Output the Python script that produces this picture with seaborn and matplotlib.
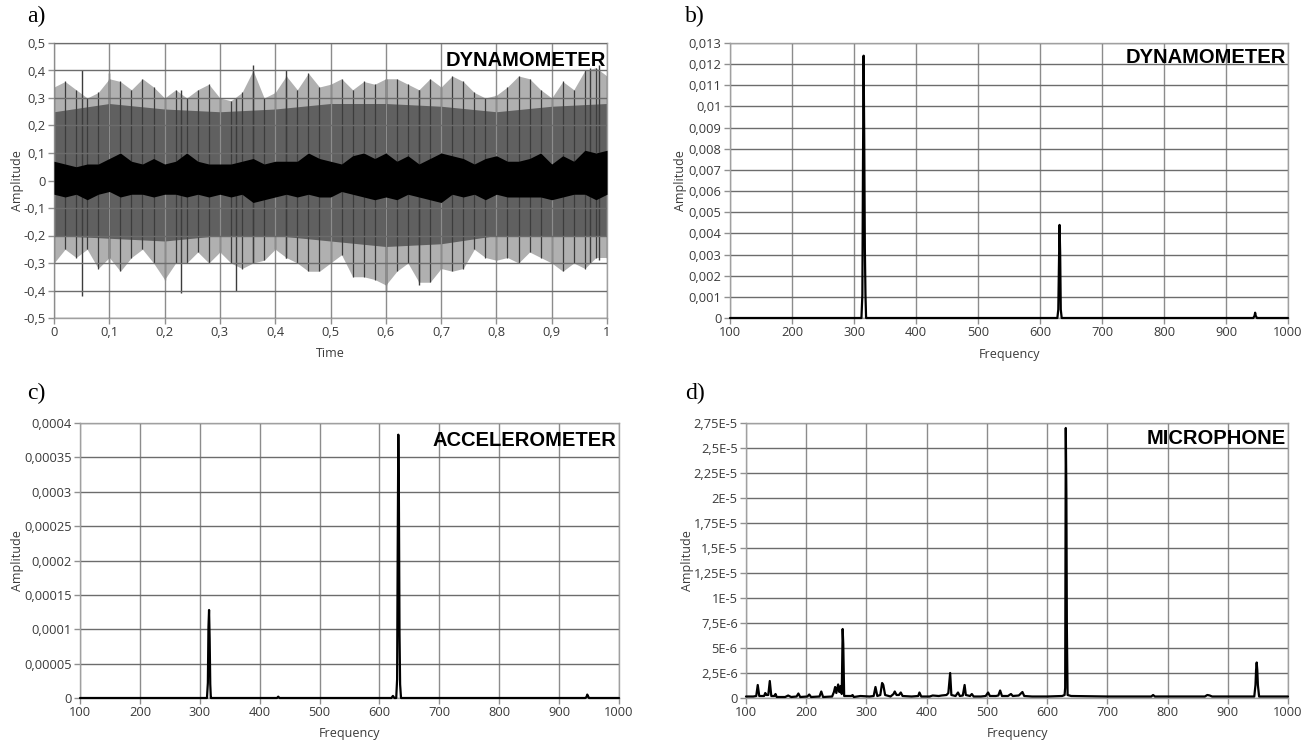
import numpy as np
import matplotlib
matplotlib.use("Agg")
import matplotlib.pyplot as plt
import seaborn as sns
import pandas as pd

# ---------------- data ----------------
# a) time signal envelopes (read from picture)
t_env = np.round(np.arange(0, 1.0001, 0.02), 2)
outer_up = [0.34, 0.36, 0.33, 0.30, 0.32, 0.37, 0.36, 0.33, 0.37, 0.34,
            0.30, 0.33, 0.30, 0.33, 0.35, 0.30, 0.29, 0.32, 0.40, 0.30,
            0.32, 0.38, 0.33, 0.39, 0.34, 0.35, 0.37, 0.33, 0.36, 0.35,
            0.37, 0.37, 0.35, 0.33, 0.37, 0.34, 0.38, 0.36, 0.32, 0.30,
            0.31, 0.34, 0.38, 0.37, 0.33, 0.30, 0.36, 0.33, 0.40, 0.41, 0.38]
outer_lo = [-0.30, -0.25, -0.28, -0.25, -0.32, -0.28, -0.33, -0.28, -0.25, -0.30,
            -0.36, -0.30, -0.30, -0.26, -0.30, -0.26, -0.30, -0.32, -0.30, -0.29,
            -0.25, -0.28, -0.30, -0.33, -0.33, -0.30, -0.27, -0.35, -0.35, -0.36,
            -0.38, -0.33, -0.30, -0.37, -0.37, -0.32, -0.33, -0.32, -0.25, -0.28,
            -0.29, -0.28, -0.30, -0.26, -0.28, -0.30, -0.33, -0.30, -0.32, -0.28, -0.28]
inner_up = [0.07, 0.06, 0.05, 0.06, 0.06, 0.08, 0.10, 0.07, 0.06, 0.08,
            0.06, 0.07, 0.10, 0.07, 0.06, 0.06, 0.06, 0.07, 0.08, 0.06,
            0.07, 0.07, 0.07, 0.10, 0.08, 0.07, 0.06, 0.09, 0.10, 0.08,
            0.10, 0.07, 0.09, 0.06, 0.08, 0.10, 0.09, 0.08, 0.06, 0.08,
            0.09, 0.07, 0.07, 0.08, 0.10, 0.06, 0.09, 0.07, 0.11, 0.10, 0.11]
inner_lo = [-0.05, -0.06, -0.05, -0.07, -0.05, -0.04, -0.06, -0.05, -0.05, -0.06,
            -0.05, -0.05, -0.06, -0.05, -0.06, -0.05, -0.06, -0.05, -0.08, -0.07,
            -0.06, -0.05, -0.06, -0.05, -0.06, -0.06, -0.04, -0.05, -0.06, -0.07,
            -0.06, -0.07, -0.05, -0.06, -0.07, -0.08, -0.05, -0.06, -0.05, -0.07,
            -0.05, -0.06, -0.06, -0.06, -0.06, -0.07, -0.06, -0.05, -0.05, -0.07, -0.05]
t_mid = [0.0, 0.1, 0.2, 0.3, 0.4, 0.5, 0.6, 0.7, 0.8, 0.9, 1.0]
mid_up = [0.25, 0.28, 0.26, 0.25, 0.26, 0.28, 0.28, 0.27, 0.25, 0.27, 0.28]
mid_lo = [-0.20, -0.21, -0.22, -0.20, -0.20, -0.22, -0.24, -0.23, -0.20, -0.20, -0.20]
spike_t = [0.05, 0.10, 0.23, 0.33, 0.36, 0.42, 0.60, 0.66, 0.97, 0.985]
spike_top = [0.40, 0.39, 0.33, 0.30, 0.42, 0.40, 0.37, 0.33, 0.41, 0.42]
spike_bot = [-0.42, -0.30, -0.41, -0.40, -0.30, -0.28, -0.40, -0.38, -0.30, -0.29]

# b) dynamometer spectrum
b_freq = [100, 312, 313.5, 314.5, 315.5, 316.5, 317.5, 318.5, 319.5, 321,
          628, 629.5, 630.5, 631.5, 632.5, 633.5, 635,
          944, 946, 947, 948, 950, 1000]
b_amp = [0, 0, 0.0011, 0.0073, 0.0124, 0.0084, 0.0033, 0.0011, 0, 0,
         0, 0.0004, 0.0024, 0.0044, 0.0031, 0.0004, 0,
         0, 0.0001, 0.00025, 0.0001, 0, 0]

# c) accelerometer spectrum
c_freq = [100, 312, 313.5, 314.5, 315.5, 316.5, 317.5, 318.5, 320,
          429, 431, 433, 620, 622.5, 625,
          628, 629.5, 630.5, 631.5, 632.5, 633.5, 634.5, 636,
          944, 946, 947, 948, 950, 1000]
c_amp = [0, 0, 0.000022, 0.000103, 0.000128, 0.000086, 0.00002, 0, 0,
         0, 0.000002, 0, 0, 0.000003, 0,
         0, 0.000027, 0.000217, 0.000383, 0.000287, 0.0000945, 0.00002, 0,
         0, 0.000002, 0.000005, 0.000003, 0, 0]

# d) microphone spectrum
d_freq = [100, 112, 117, 119.5, 122, 130, 132, 134, 137, 139.5, 142, 147, 149, 151,
          165, 170, 175, 184, 187, 190, 202, 205, 208, 222, 225, 228,
          243, 246, 248, 250, 253, 255, 257, 259, 260.5, 261.5, 263,
          275, 277, 279, 290, 305, 312, 315, 318, 323, 326, 328, 331,
          340, 345, 347, 350, 354, 357, 360, 375, 386, 388, 391, 405, 410, 420, 425,
          433, 436, 439, 441, 448, 452, 455, 460, 463, 465, 472, 475, 478,
          490, 498, 502, 505, 515, 519, 522, 525, 535, 540, 543, 553, 559, 562,
          575, 600, 625, 629, 630, 631, 632, 632.8, 634, 640, 700,
          773, 776, 779, 862, 866, 870, 874,
          944, 946, 947, 948, 949, 950, 952, 1000]
d_amp = [1.5e-7, 1.5e-7, 2e-7, 1.3e-6, 2e-7, 2e-7, 5e-7, 3e-7, 3e-7, 1.7e-6, 2e-7, 2e-7, 4e-7, 1e-7,
         1e-7, 2.5e-7, 1e-7, 1.5e-7, 4.5e-7, 1e-7, 1.5e-7, 3.5e-7, 1e-7, 1.5e-7, 6.5e-7, 1e-7,
         1.5e-7, 6e-7, 1.1e-6, 5e-7, 1.35e-6, 6e-7, 1.2e-6, 4e-7, 6.9e-6, 5.4e-6, 2e-7,
         2e-7, 3e-7, 1e-7, 2e-7, 1.5e-7, 2e-7, 1.1e-6, 2e-7, 3e-7, 1.5e-6, 1.3e-6, 3e-7,
         1.5e-7, 4e-7, 6.5e-7, 3e-7, 3e-7, 5.5e-7, 2e-7, 1.5e-7, 2e-7, 5.5e-7, 1.5e-7, 1.5e-7, 2.5e-7, 2e-7, 2.5e-7,
         3e-7, 5e-7, 2.5e-6, 3e-7, 2e-7, 5.5e-7, 2e-7, 2.5e-7, 1.3e-6, 3e-7, 2e-7, 4e-7, 1.5e-7,
         1.5e-7, 2e-7, 5.5e-7, 2e-7, 2e-7, 2.5e-7, 7.5e-7, 2e-7, 2e-7, 4e-7, 2e-7, 2.5e-7, 6e-7, 2e-7,
         1.5e-7, 1.5e-7, 2e-7, 3e-7, 1e-6, 2.7e-5, 2.03e-5, 7e-6, 3e-7, 2e-7, 1.5e-7,
         1.5e-7, 3e-7, 1.5e-7, 1.5e-7, 3e-7, 2.5e-7, 1.5e-7,
         1.5e-7, 1.3e-6, 2.8e-6, 3.55e-6, 2.8e-6, 1.3e-6, 1.5e-7, 1.5e-7]
assert len(d_freq) == len(d_amp)
assert len(c_freq) == len(c_amp)
assert len(b_freq) == len(b_amp)

# tick labels
a_yticks = [-0.5, -0.4, -0.3, -0.2, -0.1, 0, 0.1, 0.2, 0.3, 0.4, 0.5]
a_yticklabels = ["-0,5", "-0,4", "-0,3", "-0,2", "-0,1", "0", "0,1", "0,2", "0,3", "0,4", "0,5"]
a_xticks = [0, 0.1, 0.2, 0.3, 0.4, 0.5, 0.6, 0.7, 0.8, 0.9, 1.0]
a_xticklabels = ["0", "0,1", "0,2", "0,3", "0,4", "0,5", "0,6", "0,7", "0,8", "0,9", "1"]
f_ticks = [100, 200, 300, 400, 500, 600, 700, 800, 900, 1000]
f_ticklabels = ["100", "200", "300", "400", "500", "600", "700", "800", "900", "1000"]
b_yticks = [0, 0.001, 0.002, 0.003, 0.004, 0.005, 0.006, 0.007, 0.008, 0.009, 0.010, 0.011, 0.012, 0.013]
b_yticklabels = ["0", "0,001", "0,002", "0,003", "0,004", "0,005", "0,006", "0,007", "0,008",
                 "0,009", "0,01", "0,011", "0,012", "0,013"]
c_yticks = [0, 0.00005, 0.0001, 0.00015, 0.0002, 0.00025, 0.0003, 0.00035, 0.0004]
c_yticklabels = ["0", "0,00005", "0,0001", "0,00015", "0,0002", "0,00025", "0,0003", "0,00035", "0,0004"]
d_yticks = [0, 2.5e-6, 5e-6, 7.5e-6, 1e-5, 1.25e-5, 1.5e-5, 1.75e-5, 2e-5, 2.25e-5, 2.5e-5, 2.75e-5]
d_yticklabels = ["0", "2,5E-6", "5E-6", "7,5E-6", "1E-5", "1,25E-5", "1,5E-5", "1,75E-5",
                 "2E-5", "2,25E-5", "2,5E-5", "2,75E-5"]

# ---------------- style ----------------
sns.set_style("white")
plt.rcParams['font.family'] = ['Open Sans', 'DejaVu Sans']

W, H = 1315, 744
fig = plt.figure(figsize=(W / 100, H / 100), dpi=100)

def box(l, t, r, b):
    return [l / W, 1 - b / H, (r - l) / W, (b - t) / H]

axa = fig.add_axes(box(54, 43, 607, 318))
axb = fig.add_axes(box(730, 43, 1288, 318))
axc = fig.add_axes(box(80, 423, 619, 698))
axd = fig.add_axes(box(746, 423, 1288, 698))

TICK_COLOR = "#3a3a3a"

def style(ax, xticks, xtl, yticks, ytl, xlim, ylim, xlabel, ylab_x, xlab_y, below=True):
    ax.set_xlim(*xlim)
    ax.set_ylim(*ylim)
    ax.set_xticks(xticks)
    ax.set_xticklabels(xtl)
    ax.set_yticks(yticks)
    ax.set_yticklabels(ytl)
    ax.xaxis.grid(True, color="#8c8c8c", linewidth=1.0)
    ax.yaxis.grid(True, color="#6c6c6c", linewidth=1.0)
    ax.set_axisbelow(below)
    ax.tick_params(axis='both', which='major', labelsize=9.3, labelcolor=TICK_COLOR,
                   color="#909090", length=4, width=1, direction='out', pad=2,
                   bottom=True, left=True)
    for s in ax.spines.values():
        s.set_color("#a0a0a0")
        s.set_linewidth(1.0)
    ax.set_xlabel(xlabel, fontsize=9, color=TICK_COLOR)
    ax.set_ylabel("Amplitude", fontsize=9, color=TICK_COLOR)
    ax.yaxis.set_label_coords(ylab_x, 0.5)
    ax.xaxis.set_label_coords(0.5, xlab_y)

# ---- a) time signal ----
axa.fill_between(t_env, outer_lo, outer_up, color="#b0b0b0", linewidth=0, zorder=1)
axa.fill_between(t_mid, mid_lo, mid_up, color="#606060", linewidth=0, zorder=1.5)
axa.vlines(t_env, outer_lo, outer_up, color="#3c3c3c", linewidth=0.9, zorder=2)
axa.vlines(spike_t, spike_bot, spike_top, color="#3c3c3c", linewidth=1.0, zorder=2)
axa.fill_between(t_env, inner_lo, inner_up, color="black", linewidth=0, zorder=4)
style(axa, a_xticks, a_xticklabels, a_yticks, a_yticklabels, (0, 1), (-0.5, 0.5),
      "Time", -0.054, -0.105, below=False)

# ---- spectra ----
def spectrum(ax, f, a):
    df = pd.DataFrame({"Frequency": f, "Amplitude": a})
    sns.lineplot(data=df, x="Frequency", y="Amplitude", ax=ax, color="black",
                 linewidth=1.6, estimator=None, sort=False, zorder=5, clip_on=False)

spectrum(axb, b_freq, b_amp)
style(axb, f_ticks, f_ticklabels, b_yticks, b_yticklabels, (100, 1000), (0, 0.013),
      "Frequency", -0.077, -0.11)

spectrum(axc, c_freq, c_amp)
style(axc, f_ticks, f_ticklabels, c_yticks, c_yticklabels, (100, 1000), (0, 0.0004),
      "Frequency", -0.104, -0.105)

spectrum(axd, d_freq, d_amp)
style(axd, f_ticks, f_ticklabels, d_yticks, d_yticklabels, (100, 1000), (0, 2.75e-5),
      "Frequency", -0.096, -0.105)

# sensor labels
lab_kw = dict(ha='right', va='center', fontsize=14.5, fontweight='bold',
              family=['Liberation Sans', 'DejaVu Sans'], color='black', zorder=10)
axa.text(0.998, 0.938, "DYNAMOMETER", transform=axa.transAxes, **lab_kw)
axb.text(0.996, 0.949, "DYNAMOMETER", transform=axb.transAxes, **lab_kw)
axc.text(0.996, 0.935, "ACCELEROMETER", transform=axc.transAxes, **lab_kw)
axd.text(0.996, 0.945, "MICROPHONE", transform=axd.transAxes, **lab_kw)

# panel letters
let_kw = dict(ha='left', va='center', fontsize=17, family=['Liberation Serif', 'DejaVu Serif'],
              color='black')
fig.text(27 / W, 1 - 16 / H, "a)", **let_kw)
fig.text(685 / W, 1 - 16 / H, "b)", **let_kw)
fig.text(27 / W, 1 - 393 / H, "c)", **let_kw)
fig.text(685 / W, 1 - 393 / H, "d)", **let_kw)

fig.savefig("out.png", dpi=100, facecolor="white")
